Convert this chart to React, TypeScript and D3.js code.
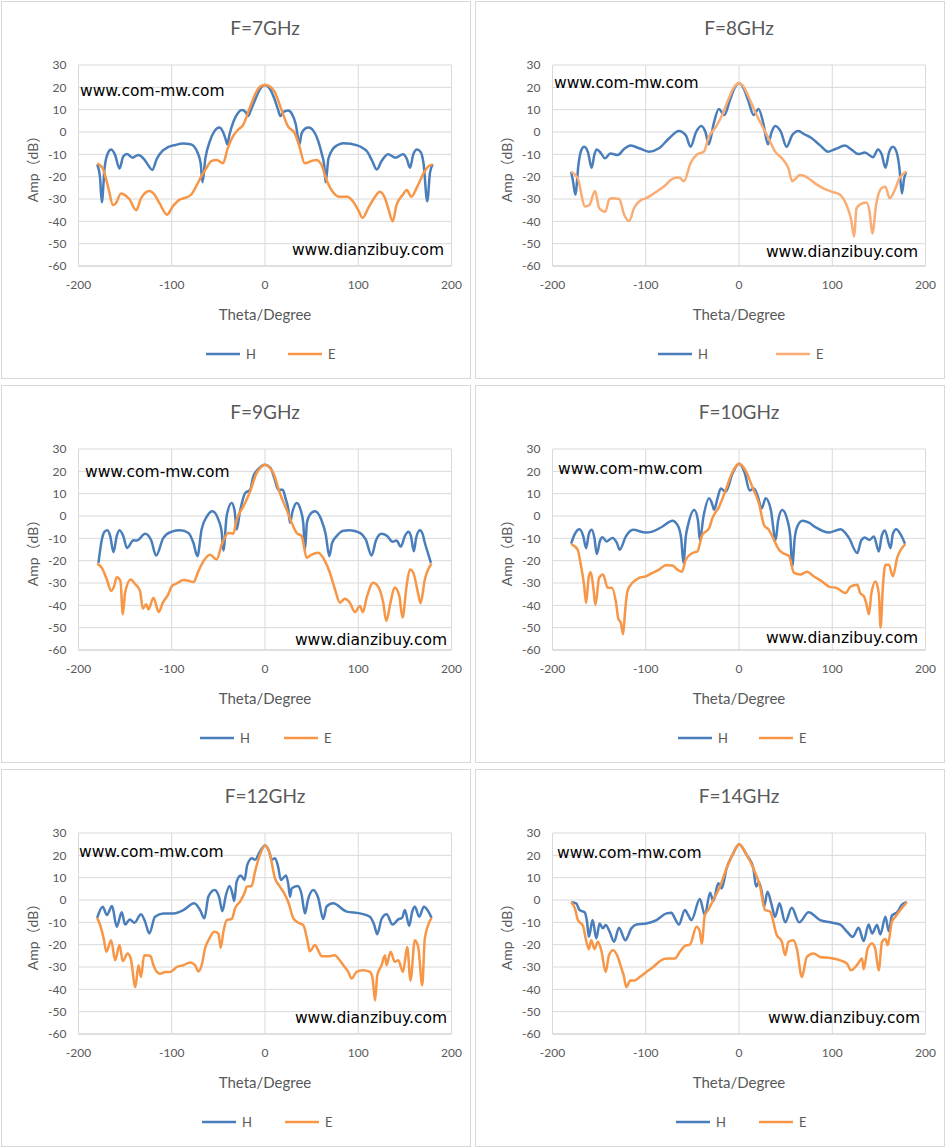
import * as d3 from 'd3'

type Pt = [number, number]

// theta (deg) -> amplitude (dB)
const H7: Pt[] = [[-180,-14.5],[-177,-20],[-175,-31.5],[-172,-16],[-168,-9],[-165,-7.8],[-161,-10],[-156,-16.3],[-152,-11],[-148,-9.9],[-142,-11.5],[-136,-10.3],[-130,-12],[-125,-15],[-121,-17],[-116,-12],[-110,-8.5],[-104,-6.8],[-96,-5.8],[-88,-5.2],[-80,-5.5],[-76,-6.5],[-72,-9.5],[-69,-14],[-67,-22.5],[-64,-12],[-59,-4],[-54,0.5],[-49,2],[-45,0],[-42,-3.5],[-40.5,-5.5],[-38,-1],[-34,4.5],[-29,8.5],[-25,9.8],[-21,9],[-18,7.2],[-15,10],[-10,15],[-5,19.5],[0,21],[5,19.5],[10,15],[14,10],[16.5,7.2],[20,9],[24.7,9.6],[29,8],[33,3.5],[37,-5.5],[39,-1],[43,1.5],[47,2],[52,0.5],[57,-4],[61,-10],[63.5,-15],[65,-22.5],[68,-12],[73,-7.5],[78,-5.8],[84,-5],[92,-5.3],[102,-6.5],[110,-9],[115,-13],[120,-16.8],[125,-13],[132,-10],[140,-11.5],[148,-10],[152,-12],[155.5,-16],[159,-10],[163,-7.8],[167,-9],[170,-14],[174,-31],[177,-18],[180,-14.5]]
const E7: Pt[] = [[-180,-14],[-174,-16.3],[-168,-25],[-163,-32.7],[-160,-32],[-154.5,-27.5],[-151,-28],[-145.5,-30],[-138,-35],[-133,-29.7],[-124,-26.4],[-118.6,-28],[-113,-32],[-105,-37],[-99,-33.4],[-92,-30.4],[-85,-29.4],[-79,-28],[-74,-24.5],[-68.5,-20],[-63,-16.3],[-57.7,-13],[-52,-12.5],[-45,-14],[-40,-7.3],[-34.4,-2],[-29,1],[-23.7,3],[-16.5,10.6],[-9.3,18],[-4,20.6],[0,21],[4,20.6],[10.4,18],[17.6,10],[24.7,2.5],[32,-0.6],[37,-6.6],[42.6,-14],[49.8,-13],[55,-12.5],[60.6,-14.8],[66,-21.5],[73,-27],[80,-29],[87.5,-29],[94.6,-31.2],[100,-35],[104.7,-38.4],[110.8,-34],[118,-29],[123,-26.7],[128.7,-29.7],[132,-34],[137,-40],[141,-32.7],[148,-28],[152,-26],[157,-29],[162.7,-25],[170,-18.5],[175,-15.5],[180,-14.5]]

const H8: Pt[] = [[-180,-17.8],[-178,-22],[-175.5,-28],[-172,-14],[-169,-8],[-166,-6.6],[-162,-9],[-158,-16],[-155,-10],[-152.7,-7.8],[-148,-9.5],[-143.8,-11.8],[-138,-9.6],[-130,-10.3],[-123,-7.5],[-116,-6.1],[-107,-7.3],[-96.4,-8.8],[-85.8,-7.3],[-75,-2.8],[-64.4,0.45],[-57,-1.5],[-52,-6.6],[-46,0],[-40.6,2.7],[-36,0],[-32.4,-5.5],[-27,4],[-21.7,10.3],[-15.7,7.6],[-10,14],[-5,19.5],[0,21.8],[5,19.5],[10,14],[15.7,7.6],[21,10.3],[26,4],[31,-5.5],[35,0],[38.8,2.7],[45,0],[51,-6.6],[57,-1.5],[63.7,0.4],[70,-1],[78,-2.8],[87,-6],[95.7,-8.8],[104,-7.5],[113.5,-6.1],[121,-8],[127.8,-9.9],[135,-9.2],[143.8,-11.3],[149,-7.8],[153,-10],[157,-16],[161,-9],[165,-6.6],[169,-9],[172,-16],[174.7,-27.5],[177,-21],[179.4,-17.8]]
const E8: Pt[] = [[-180,-17.8],[-173,-20.7],[-165,-33.4],[-160.5,-32.7],[-154.4,-26.4],[-150,-34],[-143.4,-35.7],[-139,-30],[-135.6,-29.7],[-128.5,-30],[-123,-37.2],[-117.8,-39.9],[-112.5,-34],[-105,-30.4],[-100,-29.7],[-93,-28],[-85.8,-26],[-78.6,-23.7],[-71.5,-21],[-64.4,-20.4],[-59,-22],[-52,-14],[-44.8,-10],[-37.7,-8.8],[-32.4,-2.2],[-25,2.2],[-18,7.6],[-11,15],[-5,20.3],[0,21.8],[5,20.3],[10.3,15.8],[17.4,9],[26.3,1.5],[31.7,-2.8],[38.8,-8.8],[46,-11.8],[53,-16.3],[57,-22],[65.5,-19.3],[74.4,-20.7],[81.5,-23],[90.4,-25.2],[99.3,-26.7],[108,-28],[115.3,-32.7],[120,-38.7],[123.5,-46.9],[126,-34.2],[131,-32.2],[136.7,-31.6],[140,-35.7],[143,-45.4],[147,-32.7],[152.7,-25.2],[157,-24.5],[161.6,-29.7],[167,-26],[172,-20.7],[179.4,-17.8]]

const H9: Pt[] = [[-178.6,-21],[-175,-10.6],[-172,-7],[-169,-6.4],[-166,-9],[-162.5,-16.2],[-159,-9],[-156,-6.4],[-152,-9],[-148,-14.3],[-141,-10.9],[-137.5,-11],[-128.6,-8],[-122,-11],[-116.8,-17.7],[-109,-9.8],[-100,-7],[-91,-6.4],[-82,-7.6],[-76.8,-12],[-72.5,-18],[-68,-6],[-62,0],[-56.4,2.1],[-50,-1.6],[-46.5,-7],[-44.6,-15.5],[-41,0.3],[-35.7,5.8],[-32.5,2],[-30.4,-6],[-26.8,2.1],[-21.4,10.2],[-16,11.7],[-12.5,17.7],[-6,21.5],[0,22.9],[6,21.5],[10,17],[14.3,11.7],[19,11.7],[22,8],[25,3],[26.8,-3],[29.5,2],[34,5.8],[38,3],[41,-3],[42.9,-15],[45,-3],[48,0.5],[53.6,2.1],[60.7,-2],[65,-8],[69,-18],[72,-12],[76.8,-9],[84,-6.6],[91,-6.4],[101.8,-7.6],[108,-10.5],[114.3,-17.7],[119,-11],[125,-8],[131,-9],[136.8,-11.5],[141,-11],[145.7,-13.7],[150,-9],[153.6,-7],[156.5,-9],[159.6,-15.8],[162,-10],[166,-6.4],[169,-8],[171.4,-12],[175,-17],[178,-21]]
const E9: Pt[] = [[-180,-21.3],[-175,-23.2],[-169.6,-28.4],[-165,-33.6],[-161.8,-31.4],[-159,-27.4],[-155,-29.1],[-152.5,-44],[-150,-34.3],[-144,-28.4],[-139,-30.6],[-134,-33.6],[-131,-41.5],[-127.5,-39.5],[-125,-41.8],[-119.6,-36.6],[-114,-43],[-109.6,-38.8],[-103.6,-35],[-100,-31.4],[-94.6,-30.2],[-87.5,-28.7],[-82,-29],[-76.8,-29.6],[-71.4,-24.7],[-66,-20.2],[-59,-17.3],[-51.8,-19.5],[-46.4,-12.8],[-39.3,-7.6],[-34,-7.9],[-30.4,-1.6],[-23.2,4.3],[-16,11],[-9,19.2],[-4,22],[0,22.9],[4,22],[9,19.2],[16,10.2],[23.2,2.8],[28.6,-3],[34,-7.6],[39.3,-9],[44.6,-18.7],[50,-17.3],[57,-16.5],[64.3,-20.2],[69.6,-25.4],[75,-32.8],[80.4,-38.8],[85.7,-37],[91,-38.8],[96.4,-43],[101.8,-40.3],[105,-43],[109,-36.6],[116,-29.9],[121,-31.4],[126.8,-38.8],[130,-47],[134.6,-38.8],[139,-32],[144,-35.8],[147.5,-45.5],[151.8,-31.4],[155.4,-24],[159,-25.4],[164,-34.3],[166.8,-39],[171.4,-28.4],[178.6,-21.3]]

const H10: Pt[] = [[-180,-12.4],[-176,-8],[-171,-5.9],[-167,-9],[-164,-14.4],[-161,-8],[-158,-6.2],[-155,-10],[-152.5,-17],[-149,-11],[-146.4,-9.5],[-142,-11.4],[-135.7,-9.8],[-131,-12],[-128,-15.1],[-121.4,-9.2],[-113.6,-6.2],[-100,-7.4],[-92.9,-7],[-82,-4.7],[-71.4,-2.1],[-66,-4],[-62,-10],[-59.6,-21],[-57,-9],[-55,-4.7],[-48,2.7],[-44,-2],[-42,-10.7],[-38,0],[-32,7.9],[-28.5,5],[-26.8,2.7],[-23,8],[-19.6,12.3],[-14.3,10.8],[-7,19],[0,23.4],[6,19.5],[11.4,11.4],[16,12.3],[20,9],[24.3,3.4],[28.6,7.9],[34,3],[39.3,-10.7],[42,-2],[46.4,2.7],[52,-2],[55,-9],[57,-22.5],[60,-9],[62.5,-4.7],[68,-2.1],[75,-3],[82,-5],[96.4,-7.4],[109,-5.9],[118,-9.9],[126.8,-16.6],[131,-11],[135,-9.6],[140,-10.7],[144.6,-9.2],[150,-15.9],[153,-9],[156.4,-6.5],[162.5,-14.4],[165,-8],[168.6,-5.9],[173,-8],[178,-12.4]]
const E10: Pt[] = [[-180,-12.6],[-173,-15.1],[-170,-21],[-166,-31.4],[-164,-39],[-161,-27],[-159,-25.2],[-156.4,-31.4],[-154,-39.8],[-150,-27.7],[-145.7,-26.2],[-141,-32.1],[-136.4,-32.1],[-132,-38.4],[-129.3,-46.2],[-126.8,-47.7],[-124.3,-52.9],[-122,-41.8],[-119.6,-33.6],[-114.3,-29.9],[-107,-27.7],[-100,-27],[-92.9,-25.5],[-85.7,-24],[-78.6,-22],[-71.4,-22.2],[-66,-24],[-61.4,-25],[-57,-19.5],[-50,-16.6],[-44.6,-15.9],[-39.3,-8.4],[-32,-5.5],[-28.6,-1],[-21.4,4.1],[-14.3,11.6],[-7,19.7],[0,23.4],[7,20.4],[14.3,13],[21.4,5.6],[26.8,-4],[32,-6.2],[37.5,-10.7],[42.9,-15.1],[47,-16.6],[53.6,-18],[59,-25.5],[66,-26.2],[73,-25],[80,-27],[89,-29.3],[96.4,-31.6],[105,-32.3],[114.3,-34.5],[119.6,-31.6],[126.8,-30.8],[130,-34.5],[134,-36],[136.4,-39],[139.3,-44],[142,-34.5],[146.4,-29.3],[150,-35],[151.8,-50],[154.3,-31.6],[157,-21.8],[160.7,-21.8],[165,-27],[169.6,-18.8],[178.6,-12.6]]

const H12: Pt[] = [[-180,-8],[-174,-3],[-169.6,-6.7],[-164,-2.7],[-159,-12],[-153.6,-5.5],[-150,-11],[-145,-8.7],[-140,-10.2],[-133,-6.4],[-128.6,-9.7],[-124,-15],[-118,-7.5],[-109,-6],[-98,-6],[-87.5,-4.5],[-76,-1.5],[-69.6,-4.5],[-65,-8.2],[-60.7,1.5],[-54,4.5],[-49,1],[-45.7,-5],[-42,2],[-38,6.3],[-35,3],[-33,-0.4],[-30.4,8.2],[-26,11],[-22,9],[-19,15.7],[-14,18.7],[-10.7,18],[-5,22],[0,24.4],[5,21],[7,18],[10.7,18.7],[14,15],[17,9],[22.5,11],[25,7],[26.8,1.5],[28.6,5.2],[35,6.3],[39,3],[42.9,-6],[46,0],[51.8,4.5],[57,1],[62.5,-8.5],[66,-3],[73,-1.5],[87.5,-5.2],[101.8,-6],[112.5,-7.5],[117,-11],[120.4,-15.3],[125,-8.5],[130.4,-6.4],[136.8,-11],[142.9,-8.7],[147,-8],[150,-4.5],[154.6,-11.5],[158,-5],[160.7,-3],[165.4,-7.5],[170.4,-3],[175,-5],[178.6,-8]]
const E12: Pt[] = [[-180,-8],[-176.8,-11.2],[-173,-17.2],[-170,-23.2],[-165,-18],[-160.7,-27],[-156,-20.2],[-152.5,-27.4],[-147.5,-24],[-144,-26.2],[-139,-39],[-135.7,-29.2],[-133,-34.5],[-129.6,-24.7],[-123,-25],[-119.6,-29.2],[-116,-32.2],[-112.5,-33],[-107,-32.2],[-101.8,-32.2],[-94.6,-30],[-87.5,-29.2],[-80.4,-28],[-75,-29.2],[-71.4,-32],[-67.9,-29.2],[-64.3,-21.7],[-59.6,-17.2],[-54.6,-14.2],[-50,-15],[-47.5,-21.4],[-44.6,-14.2],[-41,-9],[-35.7,-8.5],[-32,-3.7],[-26.8,-0.7],[-21.4,3.7],[-19.6,6],[-14.3,6.3],[-10.7,12.7],[-5.4,20.2],[0,24.4],[5.4,20.2],[10.7,9.7],[15.4,6.3],[19.6,3.7],[25,-1],[30.4,-8.2],[35.7,-10.2],[41,-11.2],[45.4,-18],[48,-23],[53.6,-20.2],[57,-22.5],[60.7,-25.2],[67.9,-25.2],[75,-24.7],[78.6,-26.2],[84,-29.2],[89.3,-32.2],[92.9,-35.2],[98.2,-32.2],[105,-31.5],[112.5,-32.2],[115.4,-35.2],[118,-45],[120.4,-33.7],[125,-29.2],[128.6,-24.7],[130.4,-29.2],[134.6,-23.2],[139.3,-27.7],[142.9,-27],[148,-32.2],[152.5,-21],[156,-36],[160.7,-18],[164.3,-21],[168.6,-38.2],[171.4,-17.2],[178.6,-8]]

const H14: Pt[] = [[-180,-1],[-174.6,-1.5],[-171,-4.5],[-165.6,-5.5],[-163,-9.7],[-161,-16.5],[-157,-9],[-153,-17.2],[-149.5,-10.5],[-146,-12.7],[-143,-11.2],[-138.7,-14.2],[-134,-18.7],[-128.7,-12.4],[-122,-18],[-115.4,-12.7],[-110,-11],[-99.3,-10.5],[-88.5,-9],[-77.8,-6],[-72.4,-5.7],[-68.8,-8.2],[-64.5,-11],[-58,-4.5],[-54.5,-6.7],[-51,-9],[-42,0.5],[-36.6,-6.7],[-31,3.3],[-27.6,-0.5],[-22.2,7.5],[-18.6,5.2],[-13.3,14.2],[-6,21],[0,25],[8.2,20.2],[15.4,14.2],[18.3,6],[21.5,8],[24.4,3.7],[26.9,-3],[30.5,3.7],[35,-2.2],[38.7,-7.5],[43.4,-1.5],[49.5,-10],[56.6,-3.5],[64.5,-10],[74.6,-5.5],[87,-9],[97.8,-10],[108.6,-11],[115.8,-14.2],[122,-16.5],[128.3,-12.4],[133.7,-18.4],[139,-11],[142.7,-15],[148,-11.2],[151.6,-15.4],[157,-7.5],[160.6,-14],[164,-7],[169.5,-5.5],[175,-2],[180,-1]]
const E14: Pt[] = [[-180,-1],[-176,-3.7],[-172.8,-9],[-167.4,-11.5],[-164,-18],[-161,-22],[-158.4,-18],[-155,-22],[-151.4,-18.7],[-147.7,-22.5],[-143,-32.2],[-139.4,-24.7],[-135,-22.5],[-130.8,-24.7],[-126,-30.7],[-123.7,-33.7],[-120.8,-39],[-116.5,-36],[-111.8,-36],[-106.5,-34.5],[-99.3,-32.2],[-92,-30],[-85,-27.4],[-77.8,-26.2],[-68.8,-26.2],[-63.4,-23.2],[-58,-20.5],[-52.7,-20],[-45.5,-12],[-42,-14.2],[-40,-19.5],[-36.6,-6.7],[-33,-4.5],[-27.6,0],[-20.4,6],[-13.3,14.2],[-6,21],[0,25],[8.2,20.2],[15.4,14.2],[22.6,6],[28,-4.5],[33.3,-5.2],[40.5,-15.7],[45.9,-18.7],[49.5,-24.7],[53,-18.7],[58.4,-18],[62,-21.7],[67.4,-34.5],[72.8,-25.5],[80,-24],[87,-25.5],[97.8,-26],[108.6,-27],[115.8,-28.5],[120,-31.5],[126.5,-29.2],[132,-26.2],[133.7,-31],[138,-21.7],[142.7,-19.5],[146,-21.7],[149.8,-31.5],[153.4,-18.7],[157,-17.5],[159.5,-20.2],[164,-9.7],[167.7,-7.5],[173,-4.5],[180,-1]]

const X_TICKS = [-200, -100, 0, 100, 200]
const Y_TICKS = [30, 20, 10, 0, -10, -20, -30, -40, -50, -60]

const BLUE = '#4a7ebb'
const ORANGE = '#f79646'
const GREY_TEXT = '#595959'

// panel layout: origin, watermark anchors, legend line start x
const PANELS = [
  { title: 'F=7GHz', h: H7, e: E7, ox: 1, oy: 1, eColor: ORANGE, wm1: [80, 96], wm2: [444, 255], legH: 206, legE: 288 },
  { title: 'F=8GHz', h: H8, e: E8, ox: 475, oy: 1, eColor: '#f9ad74', wm1: [554, 88], wm2: [918, 257], legH: 658, legE: 776 },
  { title: 'F=9GHz', h: H9, e: E9, ox: 1, oy: 385, eColor: ORANGE, wm1: [85, 477], wm2: [447, 645], legH: 200, legE: 284 },
  { title: 'F=10GHz', h: H10, e: E10, ox: 475, oy: 385, eColor: ORANGE, wm1: [558, 474], wm2: [918, 643], legH: 678, legE: 759 },
  { title: 'F=12GHz', h: H12, e: E12, ox: 1, oy: 769, eColor: ORANGE, wm1: [79, 857], wm2: [447, 1023], legH: 202, legE: 285 },
  { title: 'F=14GHz', h: H14, e: E14, ox: 475, oy: 769, eColor: ORANGE, wm1: [557, 858], wm2: [920, 1023], legH: 676, legE: 759 },
]

function Panel({ p }: { p: (typeof PANELS)[number] }) {
  const left = p.ox + 77.5
  const top = p.oy + 64
  const w = 373
  const h = 201
  const x = d3.scaleLinear().domain([-200, 200]).range([left, left + w])
  const y = d3.scaleLinear().domain([-60, 30]).range([top + h, top])
  const line = d3.line<Pt>()
    .x((d) => x(d[0]))
    .y((d) => y(d[1]))
    .curve(d3.curveMonotoneX)
  const cx = left + w / 2
  const legY = top + h + 88

  return (
    <g>
      <rect x={p.ox + 0.5} y={p.oy + 0.5} width={469} height={377} fill="#fff" stroke="#d9d9d9" />
      <text x={cx} y={p.oy + 34} textAnchor="middle" fontSize={19} fill={GREY_TEXT} fontFamily="Lato, sans-serif">{p.title}</text>

      {Y_TICKS.map((t) => (
        <line key={'gy' + t} x1={left} x2={left + w} y1={y(t)} y2={y(t)} stroke={t === -60 ? '#bfbfbf' : '#d9d9d9'} />
      ))}
      {X_TICKS.map((t) => (
        <line key={'gx' + t} x1={x(t)} x2={x(t)} y1={top} y2={top + h} stroke="#d9d9d9" />
      ))}
      {Y_TICKS.map((t) => (
        <text key={'ly' + t} x={left - 12} y={y(t)} dy="0.35em" textAnchor="end" fontSize={12} fill={GREY_TEXT} fontFamily="Lato, sans-serif">{t}</text>
      ))}
      {X_TICKS.map((t) => (
        <text key={'lx' + t} x={x(t)} y={top + h + 23} textAnchor="middle" fontSize={12} fill={GREY_TEXT} fontFamily="Lato, sans-serif">{t}</text>
      ))}

      <text x={cx} y={top + h + 54} textAnchor="middle" fontSize={15} fill={GREY_TEXT} fontFamily="Lato, sans-serif">Theta/Degree</text>
      <text transform={`translate(${p.ox + 32},${top + h / 2}) rotate(-90)`} textAnchor="middle" dy="0.35em" fontSize={14} fill={GREY_TEXT} fontFamily="Lato, 'Noto Sans CJK SC', sans-serif">Amp（dB）</text>

      <path d={line(p.h) ?? ''} fill="none" stroke={BLUE} strokeWidth={2.5} strokeLinejoin="round" />
      <path d={line(p.e) ?? ''} fill="none" stroke={p.eColor} strokeWidth={2.5} strokeLinejoin="round" />

      <text x={p.wm1[0]} y={p.wm1[1]} fontSize={15.5} fill="#000" fontFamily="'DejaVu Sans', sans-serif">www.com-mw.com</text>
      <text x={p.wm2[0]} y={p.wm2[1]} textAnchor="end" fontSize={15.5} fill="#000" fontFamily="'DejaVu Sans', sans-serif">www.dianzibuy.com</text>

      <line x1={p.legH} x2={p.legH + 34} y1={legY} y2={legY} stroke={BLUE} strokeWidth={2.5} />
      <text x={p.legH + 40} y={legY} dy="0.35em" fontSize={13} fill={GREY_TEXT} fontFamily="Lato, sans-serif">H</text>
      <line x1={p.legE} x2={p.legE + 34} y1={legY} y2={legY} stroke={p.eColor} strokeWidth={2.5} />
      <text x={p.legE + 40} y={legY} dy="0.35em" fontSize={13} fill={GREY_TEXT} fontFamily="Lato, sans-serif">E</text>
    </g>
  )
}

export default function App() {
  return (
    <svg width={946} height={1148} style={{ position: 'absolute', left: 0, top: 0, background: '#fff' }}>
      {PANELS.map((p) => <Panel key={p.title} p={p} />)}
    </svg>
  )
}
